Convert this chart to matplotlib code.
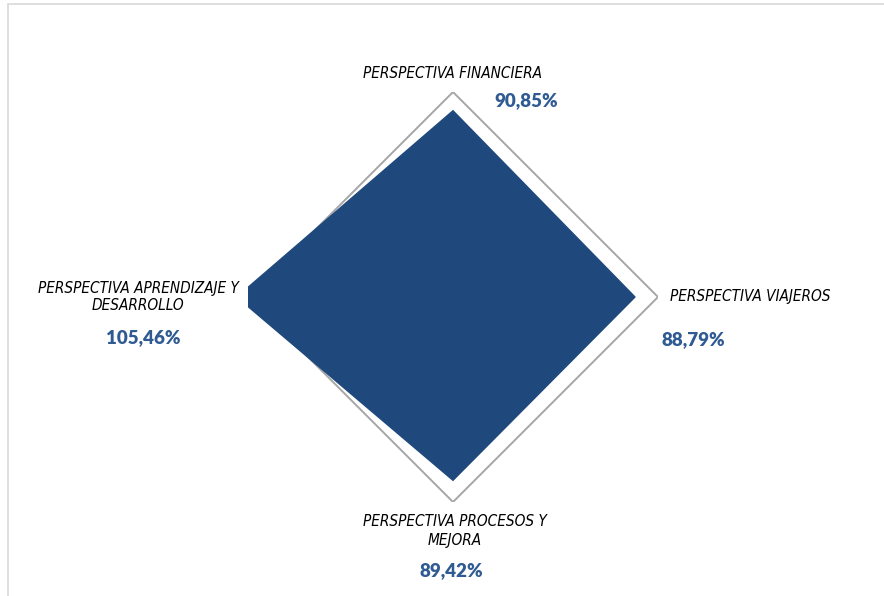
import numpy as np
import matplotlib
matplotlib.use("Agg")
import matplotlib.pyplot as plt
from matplotlib.patches import Rectangle

categories = ["PERSPECTIVA FINANCIERA", "PERSPECTIVA VIAJEROS",
              "PERSPECTIVA PROCESOS Y\nMEJORA", "PERSPECTIVA APRENDIZAJE Y\nDESARROLLO"]
values = [90.85, 88.79, 89.42, 105.46]
value_labels = ["90,85%", "88,79%", "89,42%", "105,46%"]
axis_max = 100

W, H = 884, 596
fig = plt.figure(figsize=(W / 100, H / 100), dpi=100)

# chart center / radius in pixels (from reference)
cx, cy, rad = 453, 297, 205
ax = fig.add_axes([(cx - rad) / W, 1 - (cy + rad) / H, 2 * rad / W, 2 * rad / H], projection="polar")
ax.set_theta_zero_location("N")
ax.set_theta_direction(-1)
ax.set_ylim(0, axis_max)
ax.grid(False)
ax.set_xticks([])
ax.set_yticks([])
ax.spines["polar"].set_visible(False)
ax.patch.set_visible(False)

theta = np.linspace(0, 2 * np.pi, len(categories), endpoint=False)
th_closed = np.append(theta, theta[0])

# outer frame at 100%
ax.plot(th_closed, [axis_max] * len(th_closed), color="#a6a6a6", lw=1.4, zorder=1)

polys = ax.fill(theta, values, color="#1f497d", zorder=2)
for p in polys:
    p.set_clip_path(None)  # clip only to plot area rectangle
    p.set_clip_box(ax.bbox)

label_font = ["DejaVu Sans"]
value_font = ["Lato", "DejaVu Sans"]
value_color = "#2f5a92"

# label positions in pixels
label_pos = [(453, 73), (750, 297), (455, 531), (138, 297)]
value_pos = [(526, 101), (693, 340), (451, 571), (143, 338)]

for lab, (x, y) in zip(categories, label_pos):
    fig.text(x / W, 1 - y / H, lab, ha="center", va="center", fontsize=11,
             style="italic", family=label_font, fontstretch="condensed",
             color="#000000", linespacing=1.25)
for lab, (x, y) in zip(value_labels, value_pos):
    fig.text(x / W, 1 - y / H, lab, ha="center", va="center", fontsize=13.5,
             fontweight="heavy", family=value_font, color=value_color)

# chart area border (only top/left visible)
fig.add_artist(Rectangle((8 / W, -0.1), 1.2, 1 - 4 / H + 0.1, transform=fig.transFigure,
                         fill=False, edgecolor="#d9d9d9", lw=1.2))

fig.savefig("out.png", dpi=100)
